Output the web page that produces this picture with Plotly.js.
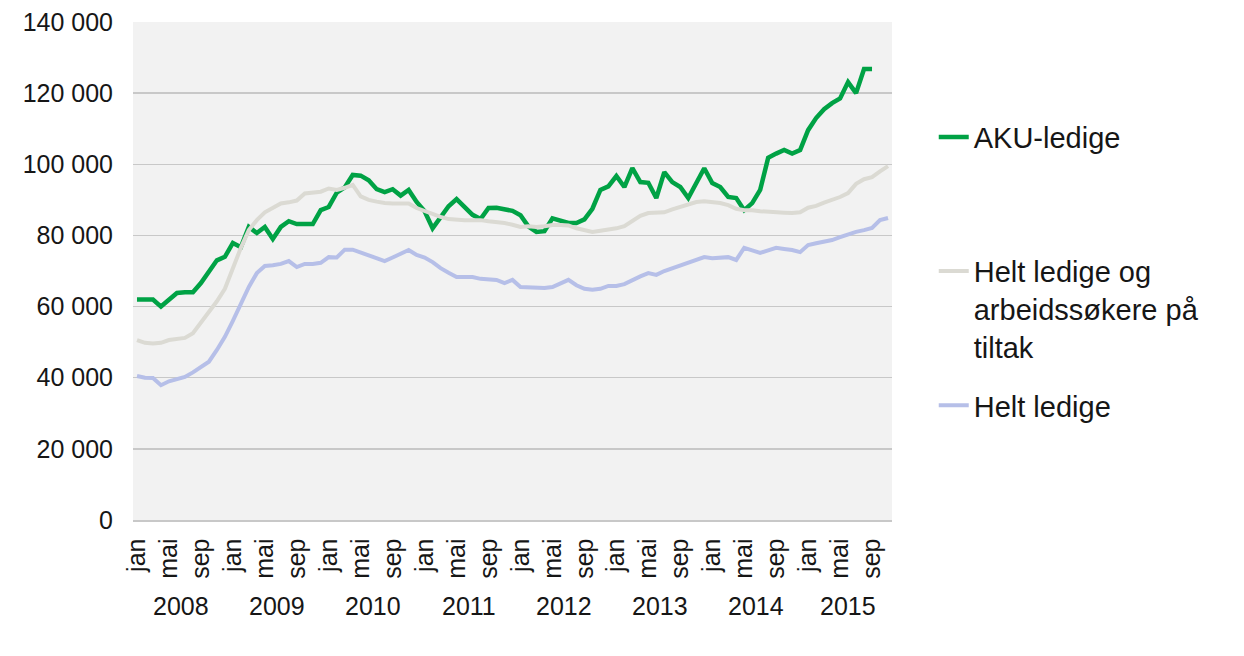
<!DOCTYPE html>
<html>
<head>
<meta charset="utf-8">
<script src="https://cdn.plot.ly/plotly-3.0.1.min.js"></script>
<style>
  html, body { margin: 0; padding: 0; background: #ffffff; }
  #chart { width: 1244px; height: 656px; }
</style>
</head>
<body>
<div id="chart"></div>
<script>
// ---- data (monthly, jan 2008 - nov 2015) ----
var years = [2008, 2009, 2010, 2011, 2012, 2013, 2014, 2015];
var monthAbbr = ['jan', 'feb', 'mar', 'apr', 'mai', 'jun', 'jul', 'aug', 'sep', 'okt', 'nov', 'des'];
var lastYearMonths = 11; // 2015 runs jan - nov

var akuLedige = [
  62000, 62000, 62000, 60000, 62000, 63800, 64000, 64000, 66600, 70000, 73000, 74000,
  77900, 76700, 82400, 80700, 82400, 79000, 82400, 84000, 83200, 83200, 83200, 87100,
  88000, 92000, 93500, 97000, 96800, 95500, 93000, 92200, 93000, 91200, 92800, 89400,
  86800, 82000, 85000, 88200, 90200, 88000, 85800, 84600, 87700, 87800, 87200, 86900,
  85700, 82500, 81000, 81200, 84800, 84200, 83500, 83500, 84500, 87500, 92800, 93800,
  96700, 93600, 98900, 95000, 94800, 90500, 97800, 95000, 93600, 90500, 94500, 98900,
  94700, 93600, 90800, 90500, 87100, 89100, 92800, 101800, 103000, 104000, 103000, 104000,
  109600, 113000, 115500, 117200, 118500, 123100, 120000, 126800, 126800, null, null
];

var heltLedigeTiltak = [
  50600, 49800, 49600, 49800, 50600, 50800, 51200, 52500, 55500, 58500, 61500, 65000,
  71000, 76500, 81500, 84300, 86500, 87800, 89000, 89300, 89800, 91800, 92000, 92300,
  93200, 92800, 93400, 94200, 91000, 90000, 89500, 89100, 89000, 89000, 89000, 87700,
  86800, 86000, 85200, 84600, 84400, 84300, 84300, 84300, 84000, 83800, 83500, 83000,
  82400, 82600, 82400, 82600, 82900, 82900, 82800, 82000, 81500, 81000, 81300, 81600,
  82000, 82600, 84000, 85500, 86300, 86300, 86500, 87300, 88000, 88700, 89400, 89600,
  89400, 89100, 88500, 87500, 87100, 87100, 86800, 86600, 86500, 86400, 86300, 86500,
  87800, 88300, 89200, 90000, 90800, 91900, 94500, 95800, 96400, 98000, 99500
];

var heltLedige = [
  40500, 40000, 39900, 37900, 39000, 39500, 40200, 41500, 43000, 44500, 47800, 51500,
  56000, 61000, 65500, 69400, 71400, 71600, 72000, 72800, 71100, 72000, 72000, 72300,
  73900, 73800, 76000, 76000, 75200, 74500, 73800, 72800, 73800, 75000, 75900, 74500,
  73800, 72500, 70800, 69500, 68300, 68300, 68300, 67800, 67700, 67500, 66600, 67500,
  65500, 65400, 65200, 65200, 65500, 66600, 67500, 66000, 65000, 64700, 65000, 65800,
  65800, 66300, 67500, 68500, 69400, 68900, 70000, 70800, 71500, 72200, 73000, 73900,
  73600, 73800, 73900, 73100, 76500, 75800, 75100, 75800, 76500, 76200, 75900, 75300,
  77300, 77800, 78300, 78700, 79500, 80300, 81000, 81500, 82100, 84300, 84900
];

var seriesNames = ['AKU-ledige', 'Helt ledige og<br>arbeidssøkere på<br>tiltak', 'Helt ledige'];
var yTicks = [0, 20000, 40000, 60000, 80000, 100000, 120000, 140000];

// ---- build month index / tick labels from the arrays ----
var xIdx = [], tickVals = [], tickText = [];
var yearCenters = [];
var n = 0;
years.forEach(function (yr, k) {
  var m = (k === years.length - 1) ? lastYearMonths : 12;
  var start = n;
  for (var j = 0; j < m; j++) {
    xIdx.push(n);
    if (j % 4 === 0) { tickVals.push(n); tickText.push(monthAbbr[j]); }
    n++;
  }
  yearCenters.push((start + n - 1) / 2);
});

var FONT = 'Liberation Sans, Arial, sans-serif';
var TXT = '#161616';

var traces = [
  { x: xIdx, y: akuLedige, name: seriesNames[0] + '<br> <br> ', type: 'scatter', mode: 'lines',
    line: { color: '#00a245', width: 4.5 }, legendgroup: 'a', connectgaps: false },
  { x: xIdx, y: heltLedigeTiltak, name: seriesNames[1], type: 'scatter', mode: 'lines',
    line: { color: '#dbdad3', width: 4 }, legendgroup: 'b' },
  { x: xIdx, y: heltLedige, name: seriesNames[2], type: 'scatter', mode: 'lines',
    line: { color: '#b6bfe8', width: 4 }, legendgroup: 'c' }
];

var annotations = years.map(function (yr, k) {
  return {
    x: yearCenters[k], xref: 'x', y: -0.173, yref: 'paper',
    text: String(yr), showarrow: false, xanchor: 'center', yanchor: 'middle',
    font: { family: FONT, size: 25, color: TXT }
  };
});

var layout = {
  width: 1244, height: 656,
  margin: { l: 133, r: 352, t: 22, b: 136 },
  paper_bgcolor: '#ffffff',
  plot_bgcolor: '#f2f2f2',
  separators: ', ',
  showlegend: true,
  legend: {
    x: 1.055, xanchor: 'left', y: 0.82, yanchor: 'top',
    font: { family: FONT, size: 29, color: TXT },
    valign: 'top', tracegroupgap: 18, bgcolor: 'rgba(0,0,0,0)'
  },
  xaxis: {
    range: [-0.5, xIdx.length - 0.5],
    tickvals: tickVals, ticktext: tickText, tickangle: -90,
    tickfont: { family: FONT, size: 25, color: TXT },
    showgrid: false, zeroline: false, showline: true, linecolor: '#c8c8c8', linewidth: 1.5,
    ticks: '', ticklabelstandoff: 7, fixedrange: true
  },
  yaxis: {
    range: [0, 140000], tickvals: yTicks, tickformat: ',d',
    tickfont: { family: FONT, size: 25, color: TXT },
    showgrid: true, gridcolor: '#c8c8c8', gridwidth: 1.5, zeroline: false,
    showline: false, ticks: '', ticklabelstandoff: 19, fixedrange: true
  },
  annotations: annotations
};

Plotly.newPlot('chart', traces, layout, { displayModeBar: false, staticPlot: true });
</script>
</body>
</html>
